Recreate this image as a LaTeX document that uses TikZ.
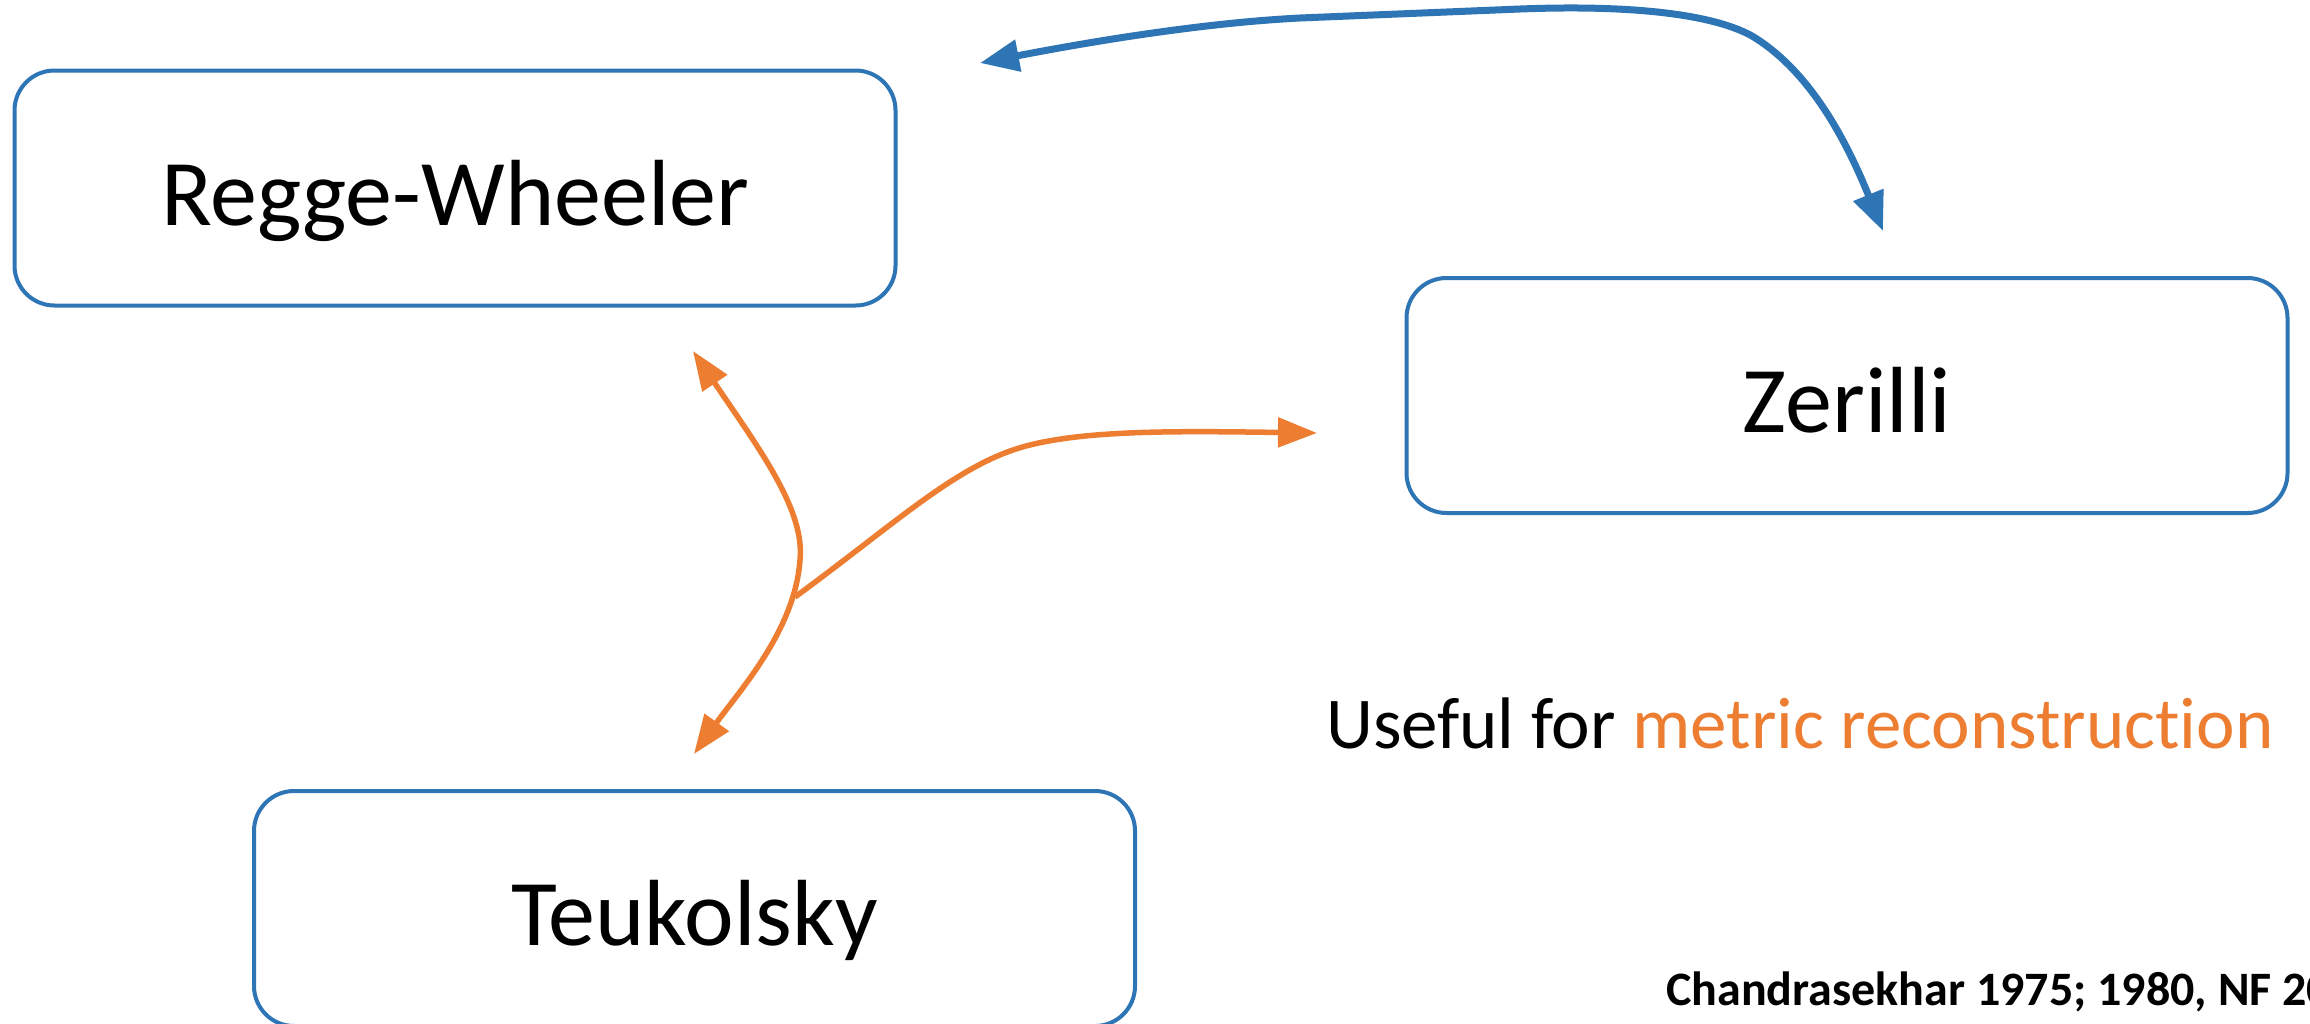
\documentclass[tikz,border=0pt]{standalone}
\usepackage{fontspec}
\setmainfont{Carlito}[Ligatures=NoCommon]
\usetikzlibrary{arrows.meta}
\definecolor{boxblue}{HTML}{2E75B6}
\definecolor{arrorange}{HTML}{ED7D31}
\begin{document}
\begin{tikzpicture}[x=1pt,y=-1pt,
  box/.style={draw=boxblue, line width=4pt, rounded corners=40pt,
    minimum width=881pt, minimum height=235pt, inner sep=0pt,
    font=\fontsize{94}{112}\selectfont, text height=74pt, text depth=0pt},
  bluearrow/.style={draw=boxblue, line width=7pt, {Triangle[length=39pt,width=31pt]}-{Triangle[length=39pt,width=31pt]}},
  orangetwo/.style={draw=arrorange, line width=5.5pt, {Triangle[length=39pt,width=29pt]}-{Triangle[length=39pt,width=29pt]}},
  orangeone/.style={draw=arrorange, line width=5.5pt, -{Triangle[length=39pt,width=29pt]}},
  note/.style={inner sep=0pt, anchor=base west}]
\useasboundingbox (0,0) rectangle (2310,1023);
\clip (0,0) rectangle (2310,1023);
\fill[white] (0,0) rectangle (2310,1023);

\node[box] (rw) at (455,188) {Regge-Wheeler};
\node[box] (zer) at (1847,395.5) {Zerilli};
\node[box] (teu) at (694.5,908.5) {Teukolsky};

\coordinate (rwTop) at (980,63);
\coordinate (zerTop) at (1883,231);
\coordinate (rwBot) at (693,351);
\coordinate (teuTop) at (694,754);
\coordinate (junc) at (795,597);
\coordinate (zerLeft) at (1317,433);

\draw[bluearrow] (rwTop) .. controls (1120,36) and (1220,22) .. (1300,18)
  -- (1520,9) .. controls (1650,4) and (1720,18) .. (1752,36)
  .. controls (1812,72) and (1848,145) .. (zerTop);

\draw[orangetwo] (rwBot) .. controls (760,450) and (805,510) .. (800,560)
  .. controls (795,630) and (740,690) .. (teuTop);

\draw[orangeone] (junc) .. controls (900,520) and (960,462) .. (1030,445)
  .. controls (1090,430) and (1180,431) .. (zerLeft);

\node[note, font=\fontsize{73}{88}\selectfont] (useful) at (1326,748)
  {Useful for \textcolor{arrorange}{metric reconstruction}};
\node[note, font=\fontsize{48}{56}\selectfont\bfseries] (ref) at (1666,1005)
  {Chandrasekhar 1975; 1980, NF 20};
\end{tikzpicture}
\end{document}
